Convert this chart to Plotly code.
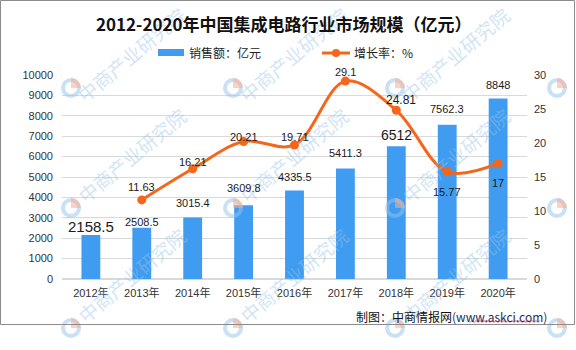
import math
import plotly.graph_objects as go

# 中国集成电路行业市场规模 2012-2020
years = ["2012年", "2013年", "2014年", "2015年", "2016年", "2017年", "2018年", "2019年", "2020年"]
sales = [2158.5, 2508.5, 3015.4, 3609.8, 4335.5, 5411.3, 6512, 7562.3, 8848]
growth = [None, 11.63, 16.21, 20.21, 19.71, 29.1, 24.81, 15.77, 17]

# label placement tweaks (pixel offsets) and font sizes
sales_label_dy = [8, 6, 14, 17, 14, 16, 11, 16, 14]
sales_label_size = [15, 11, 11, 11, 11, 11, 14, 11, 11]
growth_label_dy = [0, 13, 7, 5, 8, 9, 10, -20, -20]
growth_label_dx = [0, 0, 0, 0, 0, 0, 5, 0, 0]
growth_label_size = [11, 11, 11, 11, 11, 11, 12, 11, 11]

W, H = 576, 350
L, R, T, B = 62, 49, 75, 71
PW, PH = W - L - R, H - T - B

BAR = "#409CF0"
LINE = "#F4661B"
NUM_FONT = "Liberation Sans, Arial, sans-serif"
CJK_FONT = "Liberation Sans, Noto Sans CJK SC, sans-serif"


def px(x):
    return (x - L) / PW


def py(y):
    return (H - B - y) / PH


fig = go.Figure()
fig.add_trace(go.Bar(
    x=years, y=sales, name="销售额：亿元", marker_color=BAR,
    marker_line_width=0, width=0.37, yaxis="y",
))
fig.add_trace(go.Scatter(
    x=years, y=growth, name="增长率：%", yaxis="y2", mode="lines+markers",
    line=dict(color=LINE, width=3, shape="spline", smoothing=1),
    marker=dict(color=LINE, size=9), connectgaps=False,
))

annotations = []
shapes = []

# watermark tiles (drawn first so chart text sits on top)
WM_TEXT = "rgba(150,195,235,0.45)"
WM_RING = "rgba(150,195,235,0.5)"
WM_WEDGE = "rgba(246,175,150,0.55)"


def logo(lx, ly, r=8):
    shapes.append(dict(type="circle", xref="paper", yref="paper",
                       x0=px(lx - r), x1=px(lx + r), y0=py(ly + r), y1=py(ly - r),
                       line=dict(color=WM_RING, width=4),
                       fillcolor="rgba(0,0,0,0)", layer="above"))
    pts = [f"M{px(lx):.5f},{py(ly):.5f}"]
    for a in range(0, 91, 15):
        t = math.radians(a)
        pts.append(f"L{px(lx + (r + 2) * math.cos(t)):.5f},{py(ly - (r + 2) * math.sin(t)):.5f}")
    pts.append("Z")
    shapes.append(dict(type="path", xref="paper", yref="paper", path=" ".join(pts),
                       fillcolor=WM_WEDGE, line_width=0, layer="above"))


for lx in [71, 233, 395]:
    for ly, ty in [(88, 55), (208, 155), (328, 275)]:
        annotations.append(dict(
            x=px(lx + 60), y=py(ty), xref="paper", yref="paper", showarrow=False,
            text="中商产业研究院", textangle=-40, xanchor="center", yanchor="middle",
            font=dict(family="Noto Sans CJK SC, sans-serif", size=19, color=WM_TEXT),
        ))
        logo(lx, ly)
for ly in [88, 208, 328]:
    logo(557, ly)

# value labels
for i, (yr, v) in enumerate(zip(years, sales)):
    annotations.append(dict(
        x=yr, y=v, xref="x", yref="y", text=f"{v:g}", showarrow=False,
        yanchor="middle", yshift=sales_label_dy[i],
        font=dict(family=NUM_FONT, size=sales_label_size[i], color="#1a1a1a"),
    ))
for i, (yr, g) in enumerate(zip(years, growth)):
    if g is None:
        continue
    annotations.append(dict(
        x=yr, y=g, xref="x", yref="y2", text=f"{g:g}", showarrow=False,
        yanchor="middle", yshift=growth_label_dy[i], xshift=growth_label_dx[i],
        font=dict(family=NUM_FONT, size=growth_label_size[i], color="#1a1a1a"),
    ))

# title
annotations.append(dict(
    x=px(284), y=py(23), xref="paper", yref="paper", showarrow=False,
    text="<b>2012-2020年中国集成电路行业市场规模（亿元）</b>",
    xanchor="center", yanchor="middle",
    font=dict(family="Noto Sans CJK SC, sans-serif", size=17, color="#111111"),
))

# legend
shapes.append(dict(type="rect", xref="paper", yref="paper",
                   x0=px(158), x1=px(184), y0=py(56), y1=py(49),
                   fillcolor=BAR, line_width=0))
annotations.append(dict(x=px(187), y=py(53), xref="paper", yref="paper", showarrow=False,
                        text="销售额：亿元", xanchor="left", yanchor="middle",
                        font=dict(family="Noto Sans CJK SC, sans-serif", size=12, color="#222222")))
shapes.append(dict(type="line", xref="paper", yref="paper",
                   x0=px(322), x1=px(350), y0=py(53), y1=py(53),
                   line=dict(color=LINE, width=3)))
shapes.append(dict(type="circle", xref="paper", yref="paper",
                   x0=px(332), x1=px(340), y0=py(57), y1=py(49),
                   fillcolor=LINE, line_width=0))
annotations.append(dict(x=px(352), y=py(53), xref="paper", yref="paper", showarrow=False,
                        text="增长率：%", xanchor="left", yanchor="middle",
                        font=dict(family="Noto Sans CJK SC, sans-serif", size=12, color="#222222")))

# source note
annotations.append(dict(x=px(549), y=py(316), xref="paper", yref="paper", showarrow=False,
                        text="制图：中商情报网<span style='color:#1f2d5a'>(www.askci.com)</span>",
                        xanchor="right", yanchor="middle",
                        font=dict(family="Noto Sans CJK SC, sans-serif", size=12, color="#111111")))
# spell-check squiggle under the URL
zz = []
xx = 470.0
k = 0
while xx <= 541:
    zz.append(f"{'M' if k == 0 else 'L'}{px(xx):.5f},{py(322.5 if k % 2 == 0 else 320.5):.5f}")
    xx += 2.0
    k += 1
shapes.append(dict(type="path", xref="paper", yref="paper", path=" ".join(zz),
                   line=dict(color="#e03030", width=0.8)))

# outer frame
shapes.append(dict(type="rect", xref="paper", yref="paper",
                   x0=px(0.5), x1=px(574.5), y0=py(324.5), y1=py(0.5),
                   line=dict(color="#8c8c8c", width=1), fillcolor="rgba(0,0,0,0)"))

fig.update_layout(
    width=W, height=H, margin=dict(l=L, r=R, t=T, b=B),
    paper_bgcolor="white", plot_bgcolor="white",
    showlegend=False, bargap=0.63,
    xaxis=dict(type="category", showgrid=False, ticks="", showline=False,
               tickfont=dict(family=CJK_FONT, size=11, color="#333333"),
               ticklabelstandoff=6),
    yaxis=dict(range=[0, 10000], dtick=1000, tickformat="d", showgrid=True,
               gridcolor="#d9d9d9", gridwidth=1, zeroline=True, zerolinecolor="#d9d9d9",
               ticks="", showline=False,
               tickfont=dict(family=NUM_FONT, size=11, color="#333333"),
               ticklabelstandoff=8),
    yaxis2=dict(range=[0, 30], dtick=5, overlaying="y", side="right", showgrid=False,
                zeroline=False, ticks="", showline=False,
                tickfont=dict(family=NUM_FONT, size=11, color="#333333"),
                ticklabelstandoff=6),
    annotations=annotations, shapes=shapes,
)

fig.write_html("out.html")
